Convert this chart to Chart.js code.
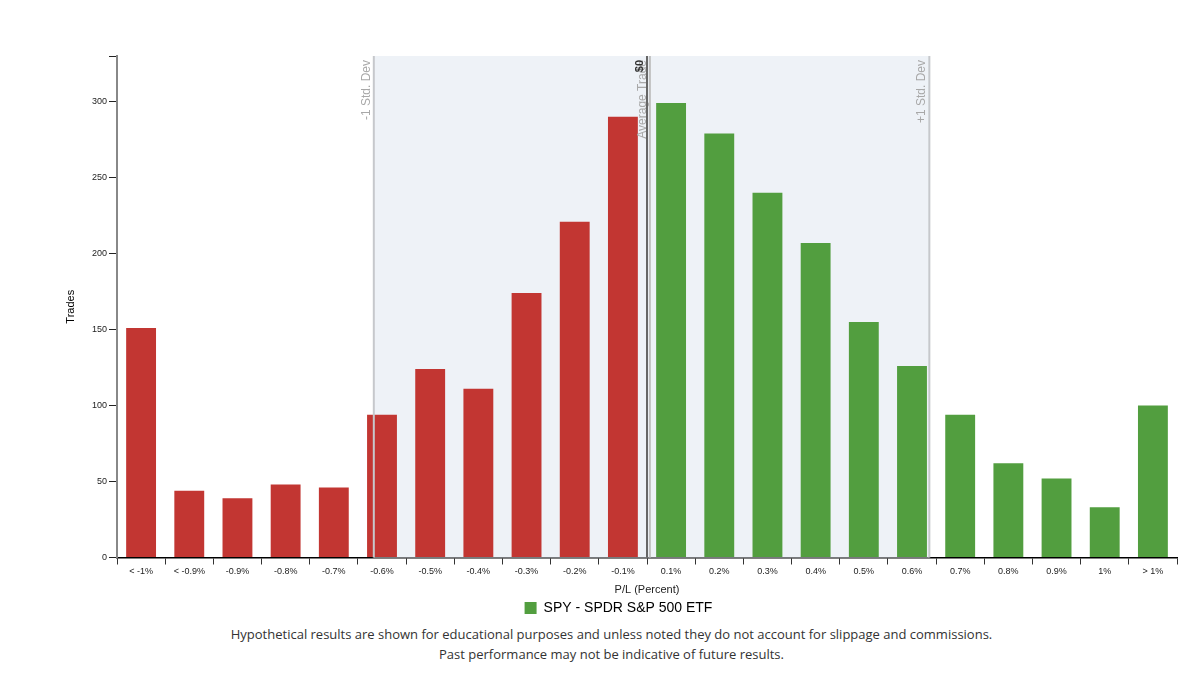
<!DOCTYPE html>
<html lang="en">
<head>
    <meta charset="UTF-8">
    <title>SPY P/L Distribution</title>
    <script src="https://cdn.jsdelivr.net/npm/chart.js"></script>
    <style>
        body { margin: 0; background: #fff; }
        #wrap { position: relative; width: 1195px; height: 625px; }
        .note { position: absolute; left: 14px; width: 1195px; text-align: center;
                font-family: "Open Sans", sans-serif; font-size: 13px; color: #333; }
    </style>
</head>
<body>
<div id="wrap"><canvas id="plChart"></canvas></div>
<div class="note" style="top: 625px;">Hypothetical results are shown for educational purposes and unless noted they do not account for slippage and commissions.</div>
<div class="note" style="top: 645px;">Past performance may not be indicative of future results.</div>

<script>
    const categories = ['< -1%', '< -0.9%', '-0.9%', '-0.8%', '-0.7%', '-0.6%', '-0.5%', '-0.4%', '-0.3%', '-0.2%', '-0.1%',
                        '0.1%', '0.2%', '0.3%', '0.4%', '0.5%', '0.6%', '0.7%', '0.8%', '0.9%', '1%', '> 1%'];
    const tradeCounts = [151, 44, 39, 48, 46, 94, 124, 111, 174, 221, 290,
                         299, 279, 240, 207, 155, 126, 94, 62, 52, 33, 100];
    const yTicks = [0, 50, 100, 150, 200, 250, 300];

    // reference lines, in category-index units on the x axis
    const stdDevLow = 4.83;
    const zeroLine = 10.5;
    const avgTrade = 10.56;
    const stdDevHigh = 16.36;

    const lossColor = '#c23632';
    const winColor = '#529e3f';
    const barColors = categories.map(c => c.includes('-') ? lossColor : winColor);

    const markerPlugin = {
        id: 'markers',
        beforeDatasetsDraw(chart) {
            const { ctx, chartArea: a, scales: { x } } = chart;
            const x1 = x.getPixelForValue(stdDevLow), x2 = x.getPixelForValue(stdDevHigh);
            ctx.save();
            ctx.fillStyle = '#eef2f7';
            ctx.fillRect(x1, a.top, x2 - x1, a.bottom - a.top);
            ctx.restore();
        },
        afterDatasetsDraw(chart) {
            const { ctx, chartArea: a, scales: { x } } = chart;
            const lines = [
                { v: stdDevLow, color: '#c6c8cc', text: '-1 Std. Dev', font: '12px "Liberation Sans", Arial', tc: '#a8a8a8' },
                { v: stdDevHigh, color: '#c6c8cc', text: '+1 Std. Dev', font: '12px "Liberation Sans", Arial', tc: '#a8a8a8' },
                { v: avgTrade, color: '#c0c0c0', text: 'Average Trade', font: '12px "Liberation Sans", Arial', tc: '#a8a8a8' },
                { v: zeroLine, color: '#666', text: '$0', font: 'bold 11px "Liberation Sans", Arial', tc: '#333' }
            ];
            ctx.save();
            lines.forEach(l => {
                const px = x.getPixelForValue(l.v);
                ctx.strokeStyle = l.color;
                ctx.lineWidth = 2;
                ctx.beginPath();
                ctx.moveTo(px, a.top);
                ctx.lineTo(px, a.bottom);
                ctx.stroke();
                ctx.save();
                ctx.translate(px - 4, a.top + 4);
                ctx.rotate(-Math.PI / 2);
                ctx.font = l.font;
                ctx.fillStyle = l.tc;
                ctx.textAlign = 'right';
                ctx.textBaseline = 'alphabetic';
                ctx.fillText(l.text, 0, 0);
                ctx.restore();
            });
            ctx.restore();
        }
    };

    function initializeChart() {
        const ctx = document.getElementById('plChart').getContext('2d');
        new Chart(ctx, {
            type: 'bar',
            data: {
                labels: categories,
                datasets: [{
                    label: 'SPY - SPDR S&P 500 ETF',
                    data: tradeCounts,
                    backgroundColor: barColors,
                    categoryPercentage: 1,
                    barPercentage: 0.62
                }]
            },
            plugins: [markerPlugin],
            options: {
                responsive: true,
                maintainAspectRatio: false,
                animation: false,
                layout: { padding: { top: 56, left: 60, right: 18, bottom: 0 } },
                plugins: {
                    tooltip: { enabled: false },
                    legend: {
                        position: 'bottom',
                        labels: {
                            font: { family: '"Liberation Sans", Arial', size: 14 },
                            color: '#222',
                            boxWidth: 12,
                            boxHeight: 12,
                            padding: 4,
                            generateLabels: chart => [{
                                text: chart.data.datasets[0].label,
                                fillStyle: winColor,
                                strokeStyle: winColor,
                                lineWidth: 0,
                                datasetIndex: 0
                            }]
                        }
                    }
                },
                scales: {
                    x: {
                        grid: { offset: true, drawOnChartArea: false, tickLength: 7, color: '#333' },
                        border: { color: '#000', width: 1.5 },
                        ticks: { font: { family: '"Liberation Sans", Arial', size: 9 }, color: '#222', maxRotation: 0, autoSkip: false, padding: 2 },
                        title: { display: true, text: 'P/L (Percent)', font: { family: '"Liberation Sans", Arial', size: 11 }, color: '#222', padding: { top: 4.5, bottom: 0 } }
                    },
                    y: {
                        min: 0,
                        max: 330,
                        afterFit: s => { s.width = 57; },
                        afterBuildTicks: s => {
                            s.ticks = yTicks.map(v => ({ value: v })).concat([{ value: 330 }]);
                        },
                        grid: { drawOnChartArea: false, tickLength: 8, color: '#222' },
                        border: { color: '#888', width: 2 },
                        ticks: {
                            font: { family: '"Liberation Sans", Arial', size: 9 },
                            color: '#222',
                            padding: 2,
                            callback: v => yTicks.includes(v) ? v : ''
                        },
                        title: { display: true, text: 'Trades', font: { family: '"Liberation Sans", Arial', size: 11 }, color: '#000' }
                    }
                }
            }
        });
    }

    window.onload = initializeChart;
</script>
</body>
</html>
